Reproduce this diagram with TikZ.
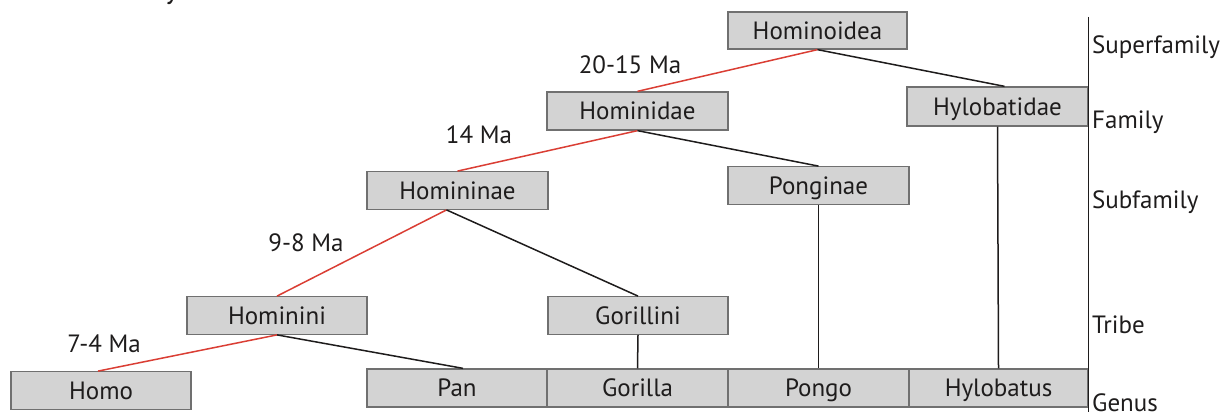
\documentclass[tikz,border=0pt]{standalone}
\usepackage{fontspec}
\setmainfont{PT Sans}
\usetikzlibrary{calc}
\definecolor{boxfill}{RGB}{211,211,211}
\definecolor{boxline}{RGB}{112,112,112}
\definecolor{cladered}{RGB}{218,62,52}
\definecolor{ink}{RGB}{30,28,28}

\begin{document}
\begin{tikzpicture}[x=1pt,y=-1pt,
  label font/.style={font=\fontsize{25}{29}\selectfont, text=ink,
    text height=17.5pt, text depth=0pt},
  taxon/.style={draw=boxline, line width=1.3pt, fill=boxfill, inner sep=0pt,
    minimum width=180pt, minimum height=37.5pt, label font},
  rank/.style={anchor=west, inner sep=0pt, label font},
  age/.style={inner sep=0pt, label font},
  human/.style={draw=cladered, line width=1.5pt},
  other/.style={draw=ink, line width=1.5pt}]
\useasboundingbox (0,0) rectangle (1228,412);

% tail of a heading letter that runs off the top edge
\begin{scope}
  \clip (0,0) rectangle (1228,412);
  \node[anchor=base, inner sep=0pt, text=ink, font=\fontsize{30}{34}\selectfont] (headtail) at (172,-1) {y};
\end{scope}

% taxa
\node[taxon, minimum width=179pt, minimum height=37pt] (hominoidea) at (817.5,30.5) {Hominoidea};
\node[taxon, minimum width=181pt, minimum height=38pt] (hominidae) at (637.5,111) {Hominidae};
\node[taxon, minimum width=181pt, minimum height=39pt] (hylobatidae) at (997.5,106.5) {Hylobatidae};
\node[taxon, minimum width=181pt] (homininae) at (457.5,190.5) {Homininae};
\node[taxon, minimum width=181pt] (ponginae) at (818.5,185.5) {Ponginae};
\node[taxon] (hominini) at (277,315.5) {Hominini};
\node[taxon] (gorillini) at (638,315.5) {Gorillini};
\node[taxon] (homo) at (101,390.5) {Homo};
\node[taxon, minimum height=38pt] (pan) at (457,388) {Pan};
\node[taxon, minimum width=181pt, minimum height=38pt] (gorilla) at (637.5,388) {Gorilla};
\node[taxon, minimum width=181pt, minimum height=38pt] (pongo) at (818.5,388) {Pongo};
\node[taxon, minimum width=179pt, minimum height=38pt] (hylobatus) at (998.5,388) {Hylobatus};

% divergence dates
\node[age] (d1) at (630,65) {20-15 Ma};
\node[age] (d2) at (479,135) {14 Ma};
\node[age] (d3) at (306,243) {9-8 Ma};
\node[age] (d4) at (104,343.5) {7-4 Ma};

% rank axis
\coordinate (axtop) at (1088.5,17);
\coordinate (axbot) at (1088.5,412);
\draw[other] (axtop) -- (axbot);
\node[rank] (r1) at (1092,45) {Superfamily};
\node[rank] (r2) at (1092,120) {Family};
\node[rank] (r3) at (1092,200) {Subfamily};
\node[rank] (r4) at (1092,325) {Tribe};
\node[rank] (r5) at (1092,403) {Genus};

% branches leading to humans
\draw[human] (hominoidea.south) -- (hominidae.north);
\draw[human] (hominidae.south) -- (homininae.north);
\draw[human] ($(homininae.south)+(-11,0)$) -- (hominini.north);
\draw[human] (hominini.south) -- ($(homo.north)+(-3,0)$);

% other branches
\draw[other] (hominoidea.south) -- ($(hylobatidae.north)+(7,0)$);
\draw[other] (hominidae.south) -- (ponginae.north);
\draw[other] ($(homininae.south)+(-11,0)$) -- (gorillini.north);
\draw[other] (hominini.south) -- ($(pan.north)+(6,0)$);
\draw[other] (gorillini.south) -- (gorilla.north);
\draw[other] (ponginae.south) -- (pongo.north);
\draw[other] (hylobatidae.south) -- (hylobatus.north);
\end{tikzpicture}
\end{document}
